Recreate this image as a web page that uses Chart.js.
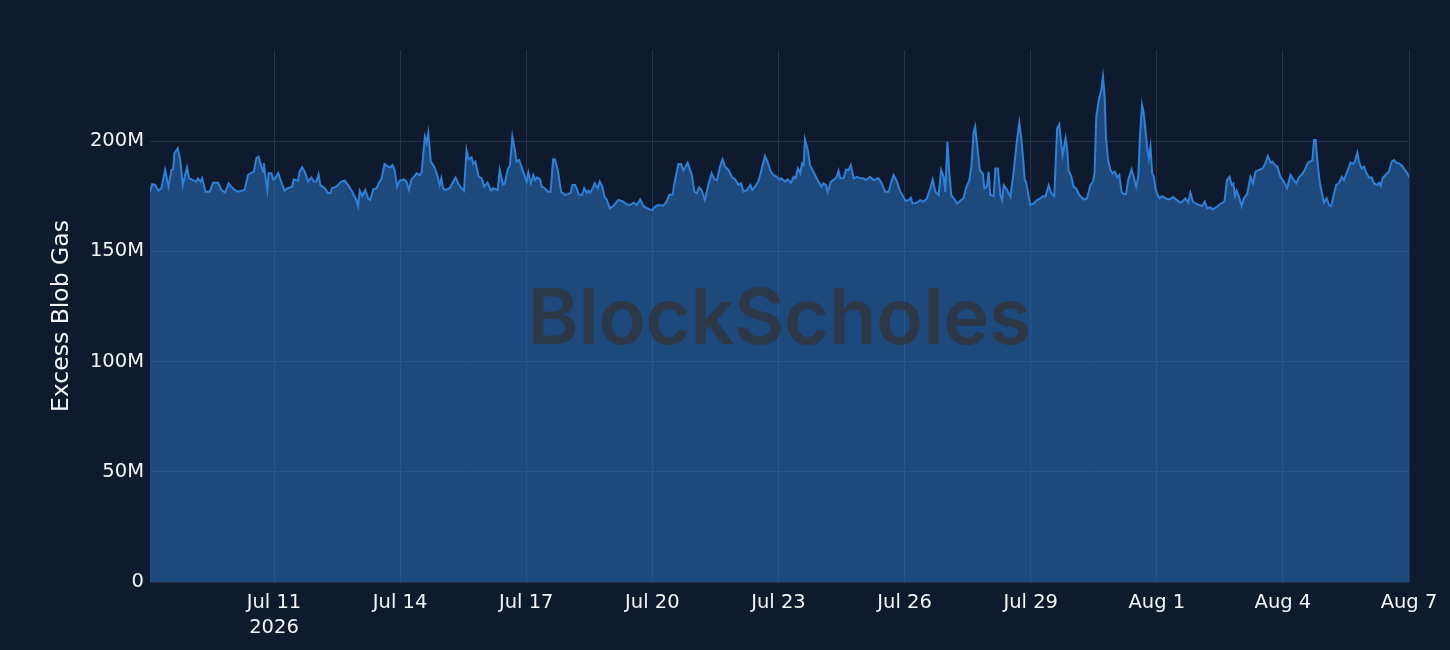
<!DOCTYPE html>
<html>
<head>
<meta charset="utf-8">
<script src="https://cdn.jsdelivr.net/npm/chart.js@4.4.1/dist/chart.umd.min.js"></script>
<style>
  html, body { margin: 0; background: #101a2e; }
  .wrap { width: 1450px; height: 650px; }
</style>
</head>
<body>
<div class="wrap"><canvas id="blobGas"></canvas></div>
<script>
// days since Jul 8 2026 00:00
const dayOffsets = [
  0.05, 0.10, 0.17, 0.25, 0.32, 0.41, 0.49, 0.56, 0.60, 0.63, 0.71, 0.77, 0.83, 0.93, 0.98, 1.07, 1.15, 1.19, 1.25, 1.29, 1.37, 1.47, 1.55, 1.67, 1.75, 1.84, 1.92, 1.98, 2.05, 2.14, 2.30, 2.38, 2.48, 2.52, 2.58, 2.63, 2.70, 2.74, 2.76, 2.80, 2.84, 2.87, 2.94, 2.98, 3.03, 3.10, 3.17, 3.25, 3.33, 3.43, 3.47, 3.57, 3.61, 3.67, 3.73, 3.81, 3.89, 3.95, 4.01, 4.06, 4.10, 4.21, 4.29, 4.34, 4.38, 4.48, 4.60, 4.68, 4.76, 4.86, 4.96,
  5.00, 5.04, 5.10, 5.17, 5.24, 5.29, 5.36, 5.44, 5.49, 5.56, 5.63, 5.71, 5.77, 5.82, 5.87, 5.93, 5.99, 6.09, 6.15, 6.21, 6.27, 6.35, 6.39, 6.47, 6.51, 6.59, 6.63, 6.67, 6.73, 6.81, 6.87, 6.94, 6.98, 7.02, 7.08, 7.18, 7.24, 7.32, 7.38, 7.46, 7.52, 7.58, 7.63, 7.70, 7.74, 7.79, 7.87, 7.94, 8.00, 8.08, 8.16, 8.21, 8.32, 8.37, 8.45, 8.49, 8.56, 8.61, 8.67, 8.73, 8.77, 8.83, 8.90, 8.97, 9.01, 9.05, 9.11, 9.17, 9.21, 9.26, 9.33, 9.37, 9.44, 9.52, 9.58, 9.64, 9.68, 9.75, 9.83, 9.92, 10.00,
  10.06, 10.10, 10.16, 10.20, 10.25, 10.33, 10.38, 10.44, 10.48, 10.52, 10.60, 10.63, 10.70, 10.75, 10.81, 10.86, 10.91, 10.99, 11.07, 11.19, 11.31, 11.39, 11.47, 11.55, 11.63, 11.71, 11.79, 11.87, 11.94, 12.00, 12.06, 12.14, 12.26, 12.34, 12.40, 12.48, 12.54, 12.62, 12.68, 12.74, 12.84, 12.94, 13.00, 13.06, 13.11, 13.17, 13.25, 13.32, 13.41, 13.48, 13.54, 13.61, 13.67, 13.73, 13.81, 13.89, 13.97, 14.05, 14.11, 14.17, 14.25, 14.33, 14.38, 14.44, 14.52, 14.60, 14.68, 14.74, 14.80, 14.88, 14.96, 15.02,
  15.06, 15.16, 15.22, 15.30, 15.36, 15.41, 15.46, 15.52, 15.56, 15.60, 15.63, 15.70, 15.75, 15.79, 15.87, 15.95, 16.02, 16.07, 16.13, 16.17, 16.25, 16.33, 16.39, 16.43, 16.47, 16.55, 16.61, 16.67, 16.72, 16.79, 16.87, 16.94, 17.02, 17.08, 17.18, 17.26, 17.38, 17.46, 17.54, 17.62, 17.68, 17.74, 17.82, 17.90, 17.95, 18.02, 18.10, 18.15, 18.19, 18.29, 18.37, 18.45, 18.53, 18.61, 18.67, 18.73, 18.81, 18.87, 18.93, 18.97, 19.02, 19.06, 19.11, 19.17, 19.25, 19.33, 19.40, 19.46, 19.54, 19.59, 19.64, 19.68, 19.74, 19.79, 19.86, 19.90, 19.96,
  20.00, 20.04, 20.12, 20.16, 20.22, 20.28, 20.32, 20.36, 20.44, 20.52, 20.60, 20.67, 20.73, 20.79, 20.86, 20.89, 20.94, 20.99, 21.07, 21.15, 21.23, 21.29, 21.35, 21.43, 21.49, 21.56, 21.63, 21.68, 21.73, 21.76, 21.83, 21.87, 21.90, 21.97, 22.02, 22.08, 22.16, 22.26, 22.34, 22.42, 22.48, 22.52, 22.56, 22.62, 22.68, 22.72, 22.76, 22.79, 22.84, 22.90, 22.95, 23.00, 23.06, 23.11, 23.16, 23.21, 23.27, 23.32, 23.40, 23.45, 23.51, 23.56, 23.60, 23.65, 23.69, 23.77, 23.81, 23.85, 23.89, 23.93, 23.97, 24.02, 24.06, 24.13, 24.21, 24.29, 24.39, 24.48, 24.56, 24.62, 24.68, 24.75, 24.80, 24.86, 24.92, 25.00,
  25.08, 25.14, 25.20, 25.28, 25.33, 25.41, 25.48, 25.56, 25.61, 25.67, 25.73, 25.78, 25.82, 25.86, 25.90, 25.95, 26.02, 26.07, 26.15, 26.19, 26.23, 26.29, 26.35, 26.43, 26.52, 26.59, 26.64, 26.71, 26.75, 26.81, 26.87, 26.94, 27.02, 27.10, 27.18, 27.26, 27.32, 27.38, 27.46, 27.52, 27.58, 27.63, 27.70, 27.74, 27.78, 27.82, 27.87, 27.92, 27.98, 28.04, 28.10, 28.15, 28.21, 28.27, 28.33, 28.40, 28.45, 28.53, 28.61, 28.67, 28.71, 28.77, 28.81, 28.87, 28.93, 28.98, 29.05, 29.11, 29.17, 29.25, 29.29, 29.33, 29.37, 29.44, 29.52, 29.59, 29.64, 29.70, 29.76, 29.84, 29.90, 29.96, 30.00
];

// excess blob gas, millions
const excessBlobGasM = [
  177.0, 180.4, 180.1, 177.5, 178.6, 186.9, 179.3, 186.9, 187.2, 194.4, 196.7, 191.4, 180.1, 188.1, 183.1, 182.3, 181.6, 183.1, 181.6, 183.1, 177.0, 177.0, 181.1, 181.1, 177.8, 176.6, 180.8, 179.3, 178.1, 177.0, 177.8, 184.6, 185.8, 186.1, 192.2, 192.9, 188.4, 186.1, 189.9, 183.1, 177.8, 185.4, 185.4, 182.6, 183.1, 185.4, 181.6, 177.5, 178.6, 179.3, 182.6, 181.9, 186.1, 188.1, 186.1, 181.6, 183.5, 181.6, 181.6, 184.9, 180.1, 178.6, 176.3, 176.3, 178.6, 179.3, 181.6, 182.1, 180.1, 177.0, 173.3,
  170.5, 177.5, 175.1, 177.8, 174.0, 173.3, 178.1, 178.6, 180.8, 183.1, 189.6, 188.4, 188.1, 189.1, 186.9, 179.3, 182.1, 182.6, 181.6, 177.8, 182.6, 184.2, 185.4, 184.6, 185.7, 202.0, 199.3, 203.8, 190.7, 188.4, 185.4, 180.1, 183.1, 178.6, 177.8, 178.6, 180.8, 183.5, 180.8, 178.6, 177.5, 195.9, 191.7, 192.6, 189.6, 190.7, 183.8, 183.1, 179.3, 181.1, 177.5, 178.6, 177.8, 186.9, 180.1, 180.8, 187.2, 188.7, 202.0, 195.9, 190.7, 191.4, 187.6, 183.8, 181.6, 185.7, 180.8, 184.6, 182.3, 183.5, 182.6, 179.3, 178.6, 177.0, 177.0, 191.7, 191.7, 186.9, 177.0, 175.6, 176.0,
  176.6, 180.1, 180.1, 178.6, 175.6, 175.6, 178.6, 176.6, 177.5, 176.6, 179.3, 180.8, 178.6, 181.6, 179.3, 174.8, 173.6, 169.5, 170.5, 173.3, 172.5, 171.3, 171.0, 172.0, 171.0, 173.6, 170.5, 169.5, 169.0, 168.7, 170.2, 171.0, 170.7, 172.5, 175.6, 175.6, 182.3, 189.6, 189.6, 186.6, 190.2, 184.6, 177.0, 176.3, 179.0, 177.8, 173.3, 179.3, 185.4, 182.6, 182.3, 188.4, 191.7, 188.4, 186.9, 183.8, 182.6, 180.1, 180.8, 177.0, 177.8, 180.1, 177.8, 179.3, 181.6, 187.2, 193.2, 190.7, 186.9, 184.6, 183.8, 182.6,
  183.1, 181.6, 182.6, 181.1, 183.8, 183.1, 187.6, 185.3, 189.9, 189.1, 200.8, 195.9, 189.1, 187.6, 184.6, 181.6, 179.3, 180.8, 180.1, 177.0, 181.6, 182.6, 183.8, 186.5, 183.1, 183.1, 187.1, 186.8, 189.1, 183.1, 183.8, 183.1, 183.1, 182.3, 183.8, 182.3, 183.1, 180.8, 177.0, 177.0, 181.1, 184.6, 181.6, 177.0, 175.5, 172.9, 173.2, 174.3, 171.7, 172.0, 173.2, 172.5, 174.0, 178.5, 182.6, 177.0, 175.5, 186.8, 183.8, 177.0, 199.7, 186.8, 175.5, 174.0, 171.7, 172.9, 174.0, 178.5, 182.3, 188.3, 203.5, 206.5, 195.9, 186.8, 185.3, 178.5, 179.3,
  186.1, 175.5, 175.0, 187.6, 187.6, 175.5, 173.2, 180.0, 177.8, 174.7, 186.8, 199.7, 208.3, 198.9, 182.3, 181.5, 176.3, 171.0, 171.7, 173.2, 174.0, 175.0, 174.7, 180.0, 176.3, 175.0, 205.7, 207.6, 198.2, 193.6, 201.2, 195.9, 186.8, 183.8, 179.3, 178.5, 175.5, 173.5, 174.0, 180.0, 181.5, 185.3, 211.0, 218.6, 223.1, 229.2, 220.1, 202.0, 191.4, 186.8, 185.3, 186.1, 183.5, 184.6, 177.0, 176.0, 176.0, 182.3, 187.1, 183.8, 179.3, 183.8, 202.0, 216.3, 212.5, 197.4, 192.1, 197.4, 185.3, 183.8, 178.5, 175.5, 174.0, 175.0, 174.0, 173.5, 174.5, 173.2, 172.0, 172.8, 174.0, 172.0, 176.6, 172.5, 171.7, 171.0,
  170.5, 172.5, 169.5, 169.9, 169.0, 169.9, 171.0, 172.0, 172.5, 182.3, 183.8, 180.1, 180.8, 175.1, 177.5, 175.1, 170.5, 174.0, 176.0, 180.1, 183.8, 180.8, 186.1, 186.9, 187.6, 190.2, 193.2, 190.2, 190.7, 189.1, 188.4, 183.8, 181.6, 178.6, 184.6, 182.3, 180.8, 183.5, 185.1, 186.9, 189.6, 190.7, 191.1, 200.5, 200.5, 191.4, 182.3, 177.0, 172.0, 174.0, 171.0, 170.5, 175.6, 180.1, 180.8, 183.8, 182.3, 186.1, 190.2, 189.6, 190.7, 194.7, 190.7, 187.6, 188.4, 185.7, 183.5, 183.5, 180.8, 180.1, 181.1, 179.6, 183.1, 184.6, 186.1, 190.7, 191.4, 190.2, 189.9, 188.7, 186.9, 185.4, 183.5
];

const xTickDays = [3, 6, 9, 12, 15, 18, 21, 24, 27, 30];
const xTickLabels = [["Jul 11", "2026"], "Jul 14", "Jul 17", "Jul 20", "Jul 23", "Jul 26", "Jul 29", "Aug 1", "Aug 4", "Aug 7"];
const yTickValues = [0, 50, 100, 150, 200];
const yTickLabels = ["0", "50M", "100M", "150M", "200M"];

const gridColor = "#27324f";
const textColor = "#f3f4f6";
const fontFamily = "'DejaVu Sans', sans-serif";

const watermark = {
  id: "watermark",
  afterDatasetsDraw(chart) {
    const { ctx, chartArea } = chart;
    const text = "BlockScholes";
    ctx.save();
    ctx.font = "600 100px Inter";
    const w = ctx.measureText(text).width;
    const size = 100 * (chartArea.width * 0.4) / w;
    ctx.font = "600 " + size + "px Inter";
    const capH = ctx.measureText("B").actualBoundingBoxAscent;
    ctx.fillStyle = "rgba(50,52,56,0.78)";
    ctx.textAlign = "center";
    ctx.textBaseline = "alphabetic";
    const cx = (chartArea.left + chartArea.right) / 2;
    const cy = (chartArea.top + chartArea.bottom) / 2;
    ctx.fillText(text, cx, cy + capH / 2);
    ctx.restore();
  }
};

new Chart(document.getElementById("blobGas"), {
  type: "line",
  data: {
    datasets: [
      {
        label: "Excess Blob Gas",
        data: dayOffsets.map((d, i) => ({ x: d, y: excessBlobGasM[i] })),
        borderColor: "rgb(48,128,216)",
        backgroundColor: "rgba(44,120,204,0.5)",
        borderWidth: 2,
        fill: "origin",
        tension: 0,
        pointRadius: 0,
      },
    ],
  },
  options: {
    responsive: true,
    maintainAspectRatio: false,
    animation: false,
    layout: { padding: { top: 50, right: 41, bottom: 0, left: 0 } },
    plugins: {
      legend: { display: false },
      tooltip: { enabled: false },
    },
    scales: {
      x: {
        type: "linear",
        min: 0.05,
        max: 30,
        afterBuildTicks: (s) => { s.ticks = xTickDays.map((v) => ({ value: v })); },
        afterFit: (s) => { s.height = 68; },
        grid: { color: gridColor, drawTicks: false },
        border: { display: false },
        ticks: {
          color: textColor,
          font: { family: fontFamily, size: 19.5, lineHeight: 1.3 },
          padding: 8,
          maxRotation: 0,
          autoSkip: false,
          callback: (v, i) => xTickLabels[i],
        },
      },
      y: {
        min: 0,
        max: 241.3,
        afterBuildTicks: (s) => { s.ticks = yTickValues.map((v) => ({ value: v })); },
        afterFit: (s) => { s.width = 150; },
        grid: { color: gridColor, drawTicks: false },
        border: { display: false },
        ticks: {
          color: textColor,
          font: { family: fontFamily, size: 19.5 },
          padding: 6,
          callback: (v, i) => yTickLabels[i],
        },
        title: {
          display: true,
          text: "Excess Blob Gas",
          color: textColor,
          font: { family: fontFamily, size: 23.5 },
          padding: { top: 48, bottom: 0 },
        },
      },
    },
  },
  plugins: [watermark],
});
</script>
</body>
</html>
